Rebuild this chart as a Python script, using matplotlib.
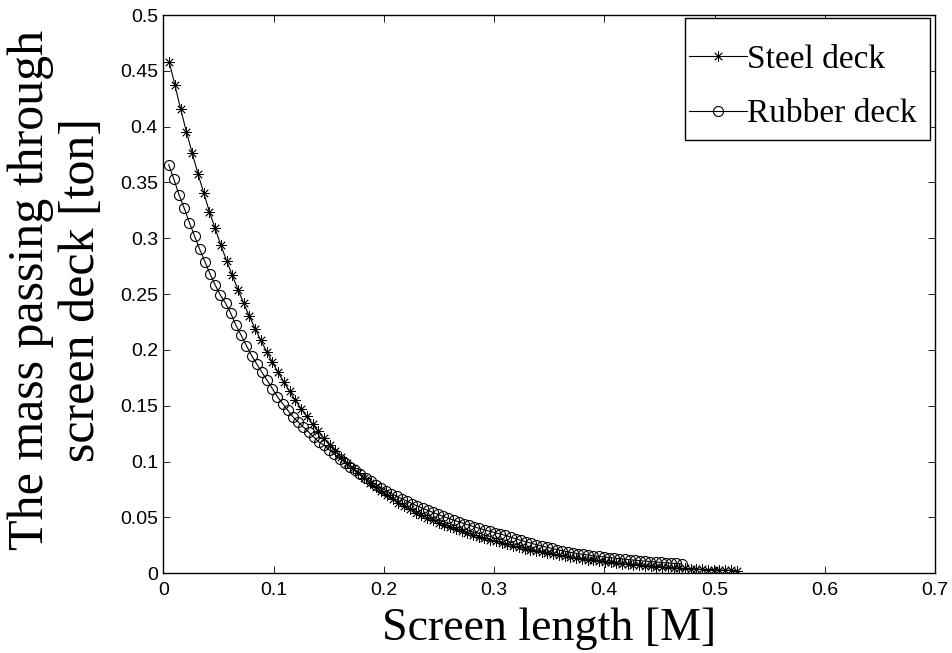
import numpy as np
import matplotlib
matplotlib.use("Agg")
import matplotlib.pyplot as plt
from matplotlib.path import Path

# ---- data ----
steel_step = 0.0052   # spacing of the steel-deck samples along the screen [M]
rubber_step = 0.0047  # spacing of the rubber-deck samples along the screen [M]

steel_mass = [
    0.458, 0.437, 0.4155, 0.3954, 0.3766, 0.358, 0.341, 0.324, 0.309, 0.294,
    0.280, 0.267, 0.254, 0.2417, 0.230, 0.219, 0.2085, 0.1985, 0.189, 0.180,
    0.1712, 0.163, 0.155, 0.1475, 0.1405, 0.1335, 0.127, 0.1208, 0.1147,
    0.1091, 0.1038, 0.0988, 0.0940, 0.0895, 0.0851, 0.0810, 0.0771, 0.0733,
    0.0698, 0.0664, 0.0632, 0.0601, 0.0572, 0.0544,
    0.0520, 0.0497, 0.0474, 0.0453, 0.0433, 0.0413, 0.0395, 0.0377, 0.0360,
    0.0344, 0.0328, 0.0313, 0.0299, 0.0286, 0.0273, 0.0261,
    0.0247, 0.0234, 0.0222, 0.0211, 0.0200, 0.0189, 0.0180, 0.0170, 0.0161,
    0.0153, 0.0145, 0.0137, 0.0130, 0.0123, 0.0117, 0.0111, 0.0105,
    0.0099, 0.0093, 0.0087, 0.0082, 0.0077, 0.0072, 0.0068, 0.0064, 0.0060,
    0.0056, 0.0053, 0.0050, 0.0047, 0.0044, 0.0041, 0.0039, 0.0036, 0.0034,
    0.0032, 0.0030, 0.0028, 0.0027, 0.0025,
]

rubber_mass = [
    0.366, 0.353, 0.339, 0.327, 0.314, 0.302, 0.290, 0.279, 0.268, 0.258,
    0.249, 0.2417, 0.2327, 0.222, 0.213, 0.204, 0.195, 0.1875, 0.180, 0.1729,
    0.1655, 0.158, 0.152, 0.146, 0.140, 0.1355, 0.131, 0.1266, 0.1221, 0.1176,
    0.1147,
    0.1106, 0.1066, 0.1028, 0.0991, 0.0955, 0.0921, 0.0888, 0.0856, 0.0825,
    0.0795, 0.0767, 0.0739,
    0.0714, 0.0691, 0.0668, 0.0646, 0.0624, 0.0603, 0.0583, 0.0564, 0.0545,
    0.0527, 0.0510, 0.0493, 0.0476, 0.0461, 0.0445, 0.0431, 0.0416, 0.0402,
    0.0389, 0.0376, 0.0364, 0.0352, 0.0340,
    0.0324, 0.0309, 0.0295, 0.0282, 0.0269, 0.0256, 0.0245, 0.0233, 0.0223,
    0.0212, 0.0203, 0.0193, 0.0184, 0.0176,
    0.0170, 0.0164, 0.0158, 0.0152, 0.0147, 0.0141, 0.0136, 0.0131, 0.0127,
    0.0122, 0.0118, 0.0113, 0.0109, 0.0105, 0.0102, 0.0098, 0.0094, 0.0091,
    0.0088, 0.0085,
]

series_labels = ["Steel deck", "Rubber deck"]
x_ticks = [0, 0.1, 0.2, 0.3, 0.4, 0.5, 0.6, 0.7]
x_tick_labels = ["0", "0.1", "0.2", "0.3", "0.4", "0.5", "0.6", "0.7"]
y_ticks = [0, 0.05, 0.1, 0.15, 0.2, 0.25, 0.3, 0.35, 0.4, 0.45, 0.5]
y_tick_labels = ["0", "0.05", "0.1", "0.15", "0.2", "0.25", "0.3", "0.35",
                 "0.4", "0.45", "0.5"]
x_label = "Screen length [M]"
y_label = "The mass passing through\nscreen deck [ton]"

steel_x = steel_step * np.arange(1, len(steel_mass) + 1)
rubber_x = rubber_step * np.arange(1, len(rubber_mass) + 1)

# ---- figure ----
W, H = 953, 653
AX_L, AX_R, AX_T, AX_B = 163.5, 935.0, 15.0, 573.3
fig = plt.figure(figsize=(W / 100, H / 100), dpi=100)
ax = fig.add_axes([AX_L / W, 1 - AX_B / H, (AX_R - AX_L) / W, (AX_B - AX_T) / H])

ax.plot(steel_x, steel_mass, color="black", lw=0.8,
        marker=(8, 2, 0), markersize=7.5, markeredgewidth=0.6,
        label=series_labels[0])
ax.plot(rubber_x, rubber_mass, color="black", lw=0.8,
        marker="o", markersize=7.2, markerfacecolor="none",
        markeredgecolor="black", markeredgewidth=0.8,
        label=series_labels[1])

ax.set_xlim(0, 0.7)
ax.set_ylim(0, 0.5)
ax.set_xticks(x_ticks)
ax.set_xticklabels(x_tick_labels)
ax.set_yticks(y_ticks)
ax.set_yticklabels(y_tick_labels)
for lab in ax.get_xticklabels() + ax.get_yticklabels():
    lab.set_fontfamily("Liberation Sans")
    lab.set_fontsize(14)
ax.tick_params(direction="in", length=5, width=0.6, top=True, right=True,
               colors="black")
ax.tick_params(axis="x", pad=6)
ax.tick_params(axis="y", pad=4)
for s in ax.spines.values():
    s.set_linewidth(1.0)
    s.set_color("black")

fig.text(549 / W, 1 - 640 / H, x_label, ha="center", va="baseline",
         fontsize=33, family="Liberation Serif")
fig.text(56 / W, 1 - 290 / H, y_label, ha="center", va="center",
         rotation=90, fontsize=36, family="Liberation Serif",
         linespacing=1.12, multialignment="center")

# legend: MATLAB-like frame with extra room on the right, top and bottom
PAD_R, PAD_TOP, PAD_BOT = 10.0, 23.0, 7.0


def matlab_box(x0, y0, width, height, mutation_size):
    x1 = x0 + width + PAD_R
    ya = y0 - PAD_BOT
    yb = y0 + height + PAD_TOP
    return Path([(x0, ya), (x1, ya), (x1, yb), (x0, yb), (x0, ya)],
                closed=True)


leg = ax.legend(loc="upper right",
                bbox_to_anchor=(1 - (5 + PAD_R) / (AX_R - AX_L),
                                1 - (3 + PAD_TOP) / (AX_B - AX_T)),
                borderaxespad=0, fancybox=False, framealpha=1,
                edgecolor="black", handlelength=1.75, handletextpad=0.0,
                borderpad=0.1, labelspacing=0.72,
                prop={"family": "Liberation Serif", "size": 24})
leg.get_frame().set_linewidth(1.0)
leg.get_frame().set_boxstyle(matlab_box)

fig.savefig("out.png", dpi=100)
